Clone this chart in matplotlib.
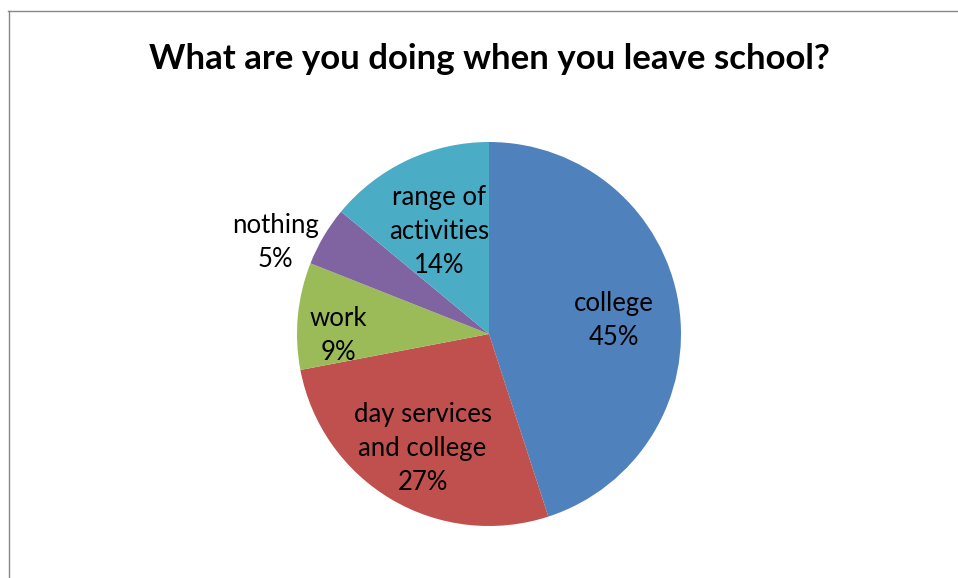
import numpy as np
import matplotlib
matplotlib.use("Agg")
import matplotlib.pyplot as plt
from matplotlib.lines import Line2D

plt.rcParams['font.family'] = ['Lato', 'DejaVu Sans']

title = "What are you doing when you leave school?"
categories = ["college", "day services\nand college", "work", "nothing", "range of\nactivities"]
shares = [45, 27, 9, 5, 14]
colors = ["#4F81BD", "#C0504D", "#9BBB59", "#8064A2", "#4BACC6"]

# label placement: radial distance (in radii), vertical nudge and alignment per slice
label_dist = [0.66, 0.68, 0.79, 1.03, 0.61]
label_dy = [-0.035, -0.01, -0.08, -0.05, -0.02]
label_ha = ["center", "center", "center", "right", "center"]

W, H = 958, 578
fig = plt.figure(figsize=(W / 100, H / 100), dpi=100)
fig.patch.set_facecolor("white")

cx, cy, r = 489, 334, 192
ax = fig.add_axes([(cx - r) / W, (H - cy - r) / H, 2 * r / W, 2 * r / H])
wedges, _ = ax.pie(shares, colors=colors, startangle=90, counterclock=False,
                   radius=1, wedgeprops=dict(linewidth=0))
ax.set_xlim(-1, 1)
ax.set_ylim(-1, 1)
ax.set_aspect("equal")
ax.axis("off")

total = sum(shares)
for w, cat, v, d, dy, ha in zip(wedges, categories, shares, label_dist, label_dy, label_ha):
    mid = np.deg2rad((w.theta1 + w.theta2) / 2)
    x, y = d * np.cos(mid), d * np.sin(mid) + dy
    ax.text(x, y, f"{cat}\n{round(100 * v / total)}%", ha=ha, va="center",
            multialignment="center", fontsize=18.5, color="#000000",
            linespacing=1.45)

fig.text(cx / W, 1 - 59 / H, title, ha="center", va="center",
         fontsize=25, fontweight="bold", color="#000000")

# chart frame (left and top edges)
fig.add_artist(Line2D([8.5 / W, 8.5 / W], [0, 1 - 10.5 / H],
                      transform=fig.transFigure, color="#878787", linewidth=1.0))
fig.add_artist(Line2D([8 / W, 1], [1 - 10.5 / H, 1 - 10.5 / H],
                      transform=fig.transFigure, color="#878787", linewidth=1.0))

fig.savefig("out.png", dpi=100)
